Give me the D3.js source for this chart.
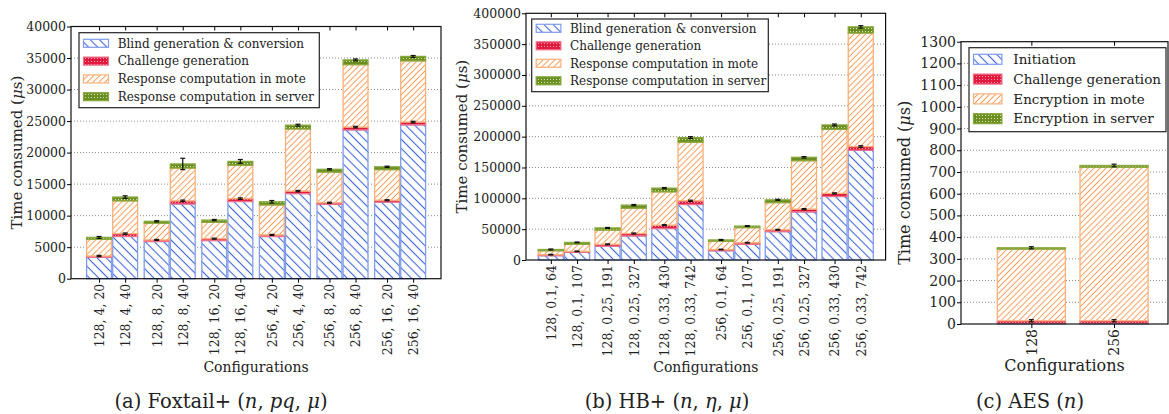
<!DOCTYPE html>
<html>
<head>
<meta charset="utf-8">
<script src="https://cdn.jsdelivr.net/npm/d3@7"></script>
<style>
  body { margin: 0; background: #fff; }
  svg { display: block; }
  text { font-family: "DejaVu Serif", "Liberation Serif", serif; fill: #222; }
</style>
</head>
<body>
<svg id="chart" width="1169" height="414"></svg>
<script>
// ---- data ----
const foxCategories = ["128, 4, 20", "128, 4, 40", "128, 8, 20", "128, 8, 40", "128, 16, 20", "128, 16, 40",
                       "256, 4, 20", "256, 4, 40", "256, 8, 20", "256, 8, 40", "256, 16, 20", "256, 16, 40"];
const foxBlind     = [3400, 6700, 5900, 11850, 6050, 12250, 6700, 13500, 11800, 23600, 12150, 24400];
const foxChallenge = [200, 450, 250, 500, 300, 450, 250, 400, 250, 450, 300, 450];
const foxMote       = [2650, 5200, 2650, 5200, 2600, 5300, 4750, 9850, 4850, 9900, 4850, 9700];
const foxServer     = [300, 600, 300, 650, 350, 600, 500, 600, 450, 750, 450, 700];
const foxTopErr     = [150, 200, 100, 900, 100, 300, 200, 150, 100, 150, 100, 150];
const foxLowErr     = [100, 100, 80, 120, 80, 120, 80, 100, 80, 120, 80, 120];
const foxYTicks     = [0, 5000, 10000, 15000, 20000, 25000, 30000, 35000, 40000];

const hbCategories = ["128, 0.1, 64", "128, 0.1, 107", "128, 0.25, 191", "128, 0.25, 327", "128, 0.33, 430", "128, 0.33, 742",
                      "256, 0.1, 64", "256, 0.1, 107", "256, 0.25, 191", "256, 0.25, 327", "256, 0.33, 430", "256, 0.33, 742"];
const hbBlind     = [7000, 12500, 22500, 39000, 51000, 90000, 15000, 25500, 46000, 78000, 103000, 178000];
const hbChallenge = [1600, 1500, 3000, 4000, 5500, 6000, 2000, 2500, 3000, 4500, 5000, 6000];
const hbMote      = [6400, 11500, 23000, 41000, 54000, 95000, 13500, 24500, 44000, 78500, 104000, 184000];
const hbServer    = [2000, 3000, 3500, 5000, 6000, 7500, 2000, 2500, 4500, 5500, 7000, 10000];
const hbTopErr    = [800, 600, 800, 1000, 1000, 1500, 800, 700, 900, 1200, 1500, 2000];
const hbLowErr    = [500, 500, 600, 800, 800, 1000, 500, 600, 700, 800, 900, 1200];
const hbYTicks    = [0, 50000, 100000, 150000, 200000, 250000, 300000, 350000, 400000];

const aesCategories = ["128", "256"];
const aesInit       = [3, 3];
const aesChallenge  = [12, 12];
const aesMote       = [330, 707];
const aesServer     = [6, 8];
const aesTopErr     = [5, 6];
const aesLowErr     = [5, 5];
const aesYTicks     = [0, 100, 200, 300, 400, 500, 600, 700, 800, 900, 1000, 1100, 1200, 1300];

const foxLegend = ["Blind generation & conversion", "Challenge generation", "Response computation in mote", "Response computation in server"];
const aesLegend = ["Initiation", "Challenge generation", "Encryption in mote", "Encryption in server"];

const svg = d3.select("#chart");

// ---- hatch / dot patterns ----
const defs = svg.append("defs");
function hatch(id, color, size, angle, width) {
    const p = defs.append("pattern").attr("id", id)
        .attr("patternUnits", "userSpaceOnUse")
        .attr("width", size).attr("height", size)
        .attr("patternTransform", `rotate(${angle})`);
    p.append("rect").attr("width", size).attr("height", size).attr("fill", "#fff");
    p.append("line").attr("x1", size / 2).attr("x2", size / 2).attr("y1", 0).attr("y2", size)
        .attr("stroke", color).attr("stroke-width", width);
}
function dots(id, bg, dot) {
    const p = defs.append("pattern").attr("id", id)
        .attr("patternUnits", "userSpaceOnUse").attr("width", 3).attr("height", 3);
    p.append("rect").attr("width", 3).attr("height", 3).attr("fill", bg);
    p.append("rect").attr("x", 1).attr("y", 1).attr("width", 1).attr("height", 1).attr("fill", dot);
}
hatch("blueHatch", "#3f67e0", 6.5, -45, 1.1);
hatch("orangeHatch", "#fa9a52", 4.2, 45, 0.95);
dots("redDots", "#e0193f", "#ff9bb0");
dots("greenDots", "#6b8e23", "#dbe8b5");

const segStyle = [
    { fill: "url(#blueHatch)", stroke: "#7f9cee" },
    { fill: "url(#redDots)", stroke: "#f07088" },
    { fill: "url(#orangeHatch)", stroke: "#fbb07a" },
    { fill: "url(#greenDots)", stroke: "#86a83c" }
];

function drawPanel(cfg) {
    const g = svg.append("g");
    const keys = ["s0", "s1", "s2", "s3"];
    const rows = cfg.categories.map((c, i) => ({
        cat: c, i: i,
        s0: cfg.series[0][i], s1: cfg.series[1][i], s2: cfg.series[2][i], s3: cfg.series[3][i]
    }));
    const stacked = d3.stack().keys(keys)(rows);

    const y = d3.scaleLinear().domain([0, cfg.yMax]).range([cfg.bottom, cfg.top]);
    const nGroups = cfg.categories.length / cfg.groupSize;
    const outer = d3.scaleBand().domain(d3.range(nGroups)).range(cfg.barRange).paddingInner(cfg.gap);
    const inner = d3.scaleBand().domain(d3.range(cfg.groupSize)).range([0, outer.bandwidth()]);
    const bw = inner.bandwidth();
    const barX = i => outer(Math.floor(i / cfg.groupSize)) + inner(i % cfg.groupSize);
    const xCenter = d3.scaleOrdinal().domain(cfg.categories)
        .range(cfg.categories.map((c, i) => barX(i) + bw / 2));

    // grid
    g.selectAll(".grid").data(cfg.yTicks.slice(1, -1)).enter().append("line")
        .attr("x1", cfg.left).attr("x2", cfg.right)
        .attr("y1", d => y(d)).attr("y2", d => y(d))
        .attr("stroke", "#8a8a8a").attr("stroke-width", 1).attr("stroke-dasharray", "1,2");

    // stacked bars
    stacked.forEach((layer, k) => {
        g.selectAll(".seg" + k).data(layer).enter().append("rect")
            .attr("x", (d, i) => barX(i) + 0.6)
            .attr("width", bw - 1.2)
            .attr("y", d => y(d[1]))
            .attr("height", d => Math.max(0.5, y(d[0]) - y(d[1])))
            .attr("fill", segStyle[k].fill)
            .attr("stroke", segStyle[k].stroke)
            .attr("stroke-width", 1.3);
    });

    // error bars
    function errBars(vals, errs) {
        const eg = g.append("g").attr("stroke", "#111").attr("stroke-width", 1.2);
        vals.forEach((v, i) => {
            const cx = barX(i) + bw / 2;
            const e = errs[i];
            eg.append("line").attr("x1", cx).attr("x2", cx).attr("y1", y(v - e)).attr("y2", y(v + e));
            [v - e, v + e].forEach(t => eg.append("line")
                .attr("x1", cx - 2.5).attr("x2", cx + 2.5).attr("y1", y(t)).attr("y2", y(t)));
        });
    }
    errBars(rows.map(r => r.s0 + r.s1), cfg.lowErr);
    errBars(rows.map(r => r.s0 + r.s1 + r.s2 + r.s3), cfg.topErr);

    // frame
    g.append("rect").attr("x", cfg.left).attr("y", cfg.top)
        .attr("width", cfg.right - cfg.left).attr("height", cfg.bottom - cfg.top)
        .attr("fill", "none").attr("stroke", "#111").attr("stroke-width", 1.2);

    // y axis
    const ya = g.append("g").attr("transform", `translate(${cfg.left},0)`)
        .call(d3.axisLeft(y).tickValues(cfg.yTicks).tickSize(4).tickPadding(1).tickFormat(d3.format("d")));
    ya.select(".domain").remove();
    ya.attr("font-family", null);
    ya.selectAll("text").style("font-size", cfg.tickFont + "px").attr("fill", "#222");

    // bottom axis with rotated labels
    const xa = g.append("g").attr("transform", `translate(0,${cfg.bottom})`)
        .call(d3.axisBottom(xCenter).tickSize(4));
    xa.select(".domain").remove();
    xa.attr("font-family", null);
    xa.selectAll("text")
        .attr("transform", "rotate(-90)")
        .attr("text-anchor", "end")
        .attr("x", -5).attr("y", 0).attr("dy", "0.35em")
        .style("font-size", cfg.tickFont + "px").attr("fill", "#222");

    // top ticks (inside)
    const ta = g.append("g").attr("transform", `translate(0,${cfg.top})`)
        .call(d3.axisTop(xCenter).tickSize(-4).tickFormat(""));
    ta.select(".domain").remove();

    // axis titles
    const yl = g.append("text")
        .attr("transform", `translate(${cfg.yLabelX},${(cfg.top + cfg.bottom) / 2}) rotate(-90)`)
        .attr("text-anchor", "middle").style("font-size", cfg.labelFont + "px");
    yl.append("tspan").text("Time consumed (");
    yl.append("tspan").style("font-style", "italic").text("μ");
    yl.append("tspan").text("s)");

    g.append("text").attr("x", (cfg.left + cfg.right) / 2).attr("y", cfg.xLabelY)
        .attr("text-anchor", "middle").style("font-size", cfg.xLabelFont + "px").text("Configurations");

    const cap = g.append("text").attr("x", cfg.captionX).attr("y", 408)
        .attr("text-anchor", "middle").style("font-size", "19.5px");
    cfg.caption.forEach(([t, it]) => cap.append("tspan")
        .style("font-style", it ? "italic" : "normal").text(t));

    // legend
    const L = cfg.legend;
    const lg = g.append("g");
    lg.append("rect").attr("x", L.x).attr("y", L.y).attr("width", L.w).attr("height", L.h)
        .attr("fill", "#fff").attr("stroke", "#222").attr("stroke-width", 1.2);
    L.labels.forEach((t, k) => {
        const cy = L.y + L.first + k * L.step;
        lg.append("rect").attr("x", L.x + 4.5).attr("y", cy - L.sh / 2)
            .attr("width", L.sw).attr("height", L.sh)
            .attr("fill", segStyle[k].fill).attr("stroke", segStyle[k].stroke).attr("stroke-width", 1.2);
        lg.append("text").attr("x", L.x + L.tx).attr("y", cy).attr("dy", "0.35em")
            .style("font-size", L.font + "px").text(t);
    });
}

drawPanel({
    categories: foxCategories, series: [foxBlind, foxChallenge, foxMote, foxServer],
    topErr: foxTopErr, lowErr: foxLowErr, yTicks: foxYTicks, yMax: 40000,
    left: 71, right: 441, top: 26.5, bottom: 278.7,
    barRange: [86, 426.2], gap: 0.094, groupSize: 2,
    tickFont: 12.5, labelFont: 15, xLabelFont: 14, xLabelY: 372, yLabelX: 22,
    captionX: 221,
    caption: [["(a) Foxtail+ (", false], ["n", true], [", ", false], ["pq", true], [", ", false], ["μ", true], [")", false]],
    legend: { x: 79, y: 32.7, w: 240.3, h: 75, first: 10.6, step: 17.8, sw: 25, sh: 8, tx: 38.7, font: 12, labels: foxLegend }
});

drawPanel({
    categories: hbCategories, series: [hbBlind, hbChallenge, hbMote, hbServer],
    topErr: hbTopErr, lowErr: hbLowErr, yTicks: hbYTicks, yMax: 400000,
    left: 526, right: 885.6, top: 13.3, bottom: 260,
    barRange: [537.7, 873.9], gap: 0.075, groupSize: 2,
    tickFont: 12.5, labelFont: 15, xLabelFont: 14, xLabelY: 372, yLabelX: 467,
    captionX: 667,
    caption: [["(b) HB+ (", false], ["n", true], [", ", false], ["η", true], [", ", false], ["μ", true], [")", false]],
    legend: { x: 531.7, y: 19, w: 236.6, h: 72.7, first: 9.3, step: 17.5, sw: 24.7, sh: 8, tx: 38.3, font: 12, labels: foxLegend }
});

drawPanel({
    categories: aesCategories, series: [aesInit, aesChallenge, aesMote, aesServer],
    topErr: aesTopErr, lowErr: aesLowErr, yTicks: aesYTicks, yMax: 1300,
    left: 961, right: 1168, top: 41.7, bottom: 324,
    barRange: [996.7, 1148.7], gap: 0.162, groupSize: 1,
    tickFont: 14, labelFont: 16, xLabelFont: 16, xLabelY: 371, yLabelX: 910,
    captionX: 1030,
    caption: [["(c) AES (", false], ["n", true], [")", false]],
    legend: { x: 969, y: 47.7, w: 197, h: 84, first: 11.6, step: 19.8, sw: 28.4, sh: 10, tx: 44.3, font: 13.5, labels: aesLegend }
});
</script>
</body>
</html>
